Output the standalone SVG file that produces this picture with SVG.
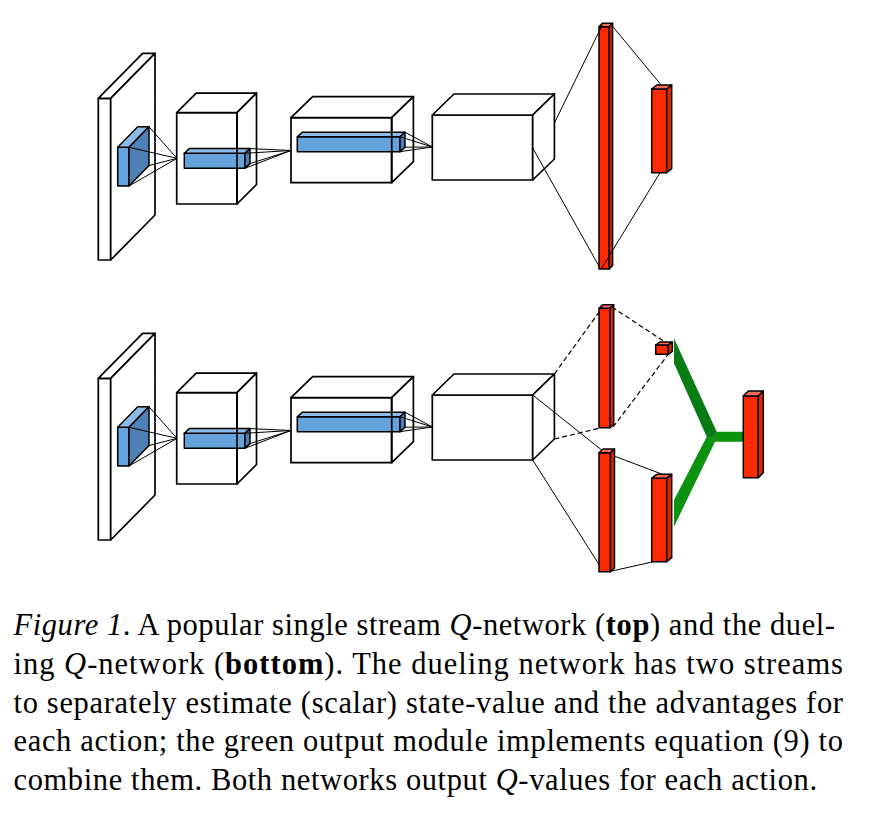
<svg xmlns="http://www.w3.org/2000/svg" width="870" height="824" viewBox="0 0 870 824">
<style>
.w{fill:#ffffff;stroke:#000;stroke-width:1.7;stroke-linejoin:round}
.e{fill:none;stroke:#000;stroke-width:1.7;stroke-linejoin:round}
.bf{fill:#65a3dc;stroke:#000;stroke-width:1.5;stroke-linejoin:round}
.bt{fill:#8cbbe9;stroke:#000;stroke-width:1.5;stroke-linejoin:round}
.bs{fill:#4f80b5;stroke:#000;stroke-width:1.5;stroke-linejoin:round}
.rf{fill:#ff2a00;stroke:#000;stroke-width:1.5;stroke-linejoin:round}
.rt{fill:#ff6b55;stroke:#000;stroke-width:1.5;stroke-linejoin:round}
.rs{fill:#e32400;stroke:#000;stroke-width:1.5;stroke-linejoin:round}
.c{stroke:#000;stroke-width:1;fill:none}
.d{stroke:#000;stroke-width:1.2;fill:none;stroke-dasharray:5 3}
.cap{font-family:"Liberation Serif","Times New Roman",serif;font-size:30.5px;fill:#000}
</style>
<rect width="870" height="824" fill="#fff"/>

<g id="top-network">
  <g id="top-input">
    <rect class="w" x="98.3" y="98.3" width="12.4" height="161.7"/>
    <polygon class="w" points="98.3,98.3 110.7,98.3 155,53.3 142.6,53.3"/>
    <polygon class="w" points="110.7,98.3 155,53.3 155,215 110.7,260"/>
  </g>
  <g id="top-kernel1">
    <rect class="bf" x="117.7" y="147.3" width="11.3" height="38.7"/>
    <polygon class="bt" points="117.7,147.3 129,147.3 149,126.8 137.7,126.8"/>
    <polygon class="bs" points="129,147.3 149,126.8 149,165.5 129,186"/>
  </g>
  <g id="top-conv1">
    <rect class="w" x="176.7" y="112.7" width="60.3" height="91.3"/>
    <polygon class="w" points="176.7,112.7 237,112.7 256.5,93.2 196.2,93.2"/>
    <polygon class="w" points="237,112.7 256.5,93.2 256.5,184.5 237,204"/>
    <rect class="bf" x="184.3" y="153.3" width="60.7" height="15"/>
    <polygon class="bt" points="184.3,153.3 245,153.3 250,148.6 189.3,148.6"/>
    <polygon class="bs" points="245,153.3 250,148.6 250,163.6 245,168.3"/>
    <line class="e" x1="237" y1="112.7" x2="237" y2="204"/>
  </g>
  <g id="top-conv2">
    <rect class="w" x="291" y="117.7" width="100.7" height="65"/>
    <polygon class="w" points="291,117.7 391.7,117.7 413.4,96.7 312.7,96.7"/>
    <polygon class="w" points="391.7,117.7 413.4,96.7 413.4,161.7 391.7,182.7"/>
    <rect class="bf" x="297.3" y="136.7" width="102.7" height="15"/>
    <polygon class="bt" points="297.3,136.7 400,136.7 405,132.2 302.3,132.2"/>
    <polygon class="bs" points="400,136.7 405,132.2 405,147.2 400,151.7"/>
    <line class="e" x1="391.7" y1="117.7" x2="391.7" y2="182.7"/>
  </g>
  <g id="top-conv3">
    <rect class="w" x="432.3" y="115" width="100.4" height="65"/>
    <polygon class="w" points="432.3,115 532.7,115 554.4,94 454,94"/>
    <polygon class="w" points="532.7,115 554.4,94 554.4,159 532.7,180"/>
  </g>
  <g id="top-fc">
    <rect class="rf" x="599" y="26.7" width="10.3" height="242.3"/>
    <polygon class="rt" points="599,26.7 609.3,26.7 612.6,23.3 602.3,23.3"/>
    <polygon class="rs" points="609.3,26.7 612.6,23.3 612.6,265.6 609.3,269"/>
  </g>
  <g id="top-output">
    <rect class="rf" x="651.7" y="89" width="15" height="83.7"/>
    <polygon class="rt" points="651.7,89 666.7,89 671.7,85 656.7,85"/>
    <polygon class="rs" points="666.7,89 671.7,85 671.7,168.7 666.7,172.7"/>
  </g>
</g>

<g id="bottom-network">
  <g id="bottom-input" transform="translate(0,280)">
    <rect class="w" x="98.3" y="98.3" width="12.4" height="161.7"/>
    <polygon class="w" points="98.3,98.3 110.7,98.3 155,53.3 142.6,53.3"/>
    <polygon class="w" points="110.7,98.3 155,53.3 155,215 110.7,260"/>
  </g>
  <g id="bottom-kernel1" transform="translate(0,280)">
    <rect class="bf" x="117.7" y="147.3" width="11.3" height="38.7"/>
    <polygon class="bt" points="117.7,147.3 129,147.3 149,126.8 137.7,126.8"/>
    <polygon class="bs" points="129,147.3 149,126.8 149,165.5 129,186"/>
  </g>
  <g id="bottom-conv1" transform="translate(0,280)">
    <rect class="w" x="176.7" y="112.7" width="60.3" height="91.3"/>
    <polygon class="w" points="176.7,112.7 237,112.7 256.5,93.2 196.2,93.2"/>
    <polygon class="w" points="237,112.7 256.5,93.2 256.5,184.5 237,204"/>
    <rect class="bf" x="184.3" y="153.3" width="60.7" height="15"/>
    <polygon class="bt" points="184.3,153.3 245,153.3 250,148.6 189.3,148.6"/>
    <polygon class="bs" points="245,153.3 250,148.6 250,163.6 245,168.3"/>
    <line class="e" x1="237" y1="112.7" x2="237" y2="204"/>
  </g>
  <g id="bottom-conv2" transform="translate(0,280)">
    <rect class="w" x="291" y="117.7" width="100.7" height="65"/>
    <polygon class="w" points="291,117.7 391.7,117.7 413.4,96.7 312.7,96.7"/>
    <polygon class="w" points="391.7,117.7 413.4,96.7 413.4,161.7 391.7,182.7"/>
    <rect class="bf" x="297.3" y="136.7" width="102.7" height="15"/>
    <polygon class="bt" points="297.3,136.7 400,136.7 405,132.2 302.3,132.2"/>
    <polygon class="bs" points="400,136.7 405,132.2 405,147.2 400,151.7"/>
    <line class="e" x1="391.7" y1="117.7" x2="391.7" y2="182.7"/>
  </g>
  <g id="bottom-conv3" transform="translate(0,280)">
    <rect class="w" x="432.3" y="115" width="100.4" height="65"/>
    <polygon class="w" points="432.3,115 532.7,115 554.4,94 454,94"/>
    <polygon class="w" points="532.7,115 554.4,94 554.4,159 532.7,180"/>
  </g>
  <g id="value-fc">
    <rect class="rf" x="599" y="308.3" width="11" height="119.4"/>
    <polygon class="rt" points="599,308.3 610,308.3 613.7,304.8 602.7,304.8"/>
    <polygon class="rs" points="610,308.3 613.7,304.8 613.7,424.2 610,427.7"/>
  </g>
  <g id="value-out">
    <rect class="rf" x="655.7" y="345" width="12.6" height="9.3"/>
    <polygon class="rt" points="655.7,345 668.3,345 672.3,342 659.7,342"/>
    <polygon class="rs" points="668.3,345 672.3,342 672.3,351.3 668.3,354.3"/>
  </g>
  <g id="advantage-fc">
    <rect class="rf" x="599" y="452.7" width="11.5" height="119"/>
    <polygon class="rt" points="599,452.7 610.5,452.7 614.5,449 603,449"/>
    <polygon class="rs" points="610.5,452.7 614.5,449 614.5,568 610.5,571.7"/>
  </g>
  <g id="advantage-out">
    <rect class="rf" x="651.7" y="478.3" width="15" height="83.4"/>
    <polygon class="rt" points="651.7,478.3 666.7,478.3 671.7,474.3 656.7,474.3"/>
    <polygon class="rs" points="666.7,478.3 671.7,474.3 671.7,557.7 666.7,561.7"/>
  </g>
  <g id="green-module">
    <polygon fill="#0b920e" points="706.7,436.7 716.7,431.7 743.5,431.7 743.5,441.7 715,441.7 674,526.7 674,500"/>
    <polygon fill="#087c14" points="674,338.3 716.7,431.7 712,436.7 706.7,436.7 674,363.3"/>
  </g>
  <g id="q-output">
    <rect class="rf" x="743.3" y="396" width="15" height="81.7"/>
    <polygon class="rt" points="743.3,396 758.3,396 763.3,391 748.3,391"/>
    <polygon class="rs" points="758.3,396 763.3,391 763.3,472.7 758.3,477.7"/>
  </g>
</g>

<g id="connectors">
  <g id="top-connectors">
    <line class="c" x1="149" y1="126.8" x2="177" y2="158.3"/>
    <line class="c" x1="129" y1="147.3" x2="177" y2="158.3"/>
    <line class="c" x1="129" y1="186" x2="177" y2="158.3"/>
    <line class="c" x1="149" y1="165.5" x2="177" y2="158.3"/>
    <line class="c" x1="250" y1="148.6" x2="291" y2="150.5"/>
    <line class="c" x1="245" y1="153.3" x2="291" y2="150.5"/>
    <line class="c" x1="245" y1="168.3" x2="291" y2="150.5"/>
    <line class="c" x1="250" y1="163.6" x2="291" y2="150.5"/>
    <line class="c" x1="405" y1="132.2" x2="432.3" y2="147"/>
    <line class="c" x1="400" y1="136.7" x2="432.3" y2="147"/>
    <line class="c" x1="400" y1="151.7" x2="432.3" y2="147"/>
    <line class="c" x1="405" y1="147.2" x2="432.3" y2="147"/>
    <line class="c" x1="554.4" y1="123" x2="602.3" y2="25"/>
    <line class="c" x1="532.7" y1="148" x2="600" y2="268"/>
    <line class="c" x1="611.5" y1="25" x2="662" y2="86"/>
    <line class="c" x1="601.7" y1="268.3" x2="660" y2="172.7"/>
  </g>
  <g id="bottom-connectors">
    <line class="c" x1="149" y1="406.8" x2="177" y2="438.3"/>
    <line class="c" x1="129" y1="427.3" x2="177" y2="438.3"/>
    <line class="c" x1="129" y1="466" x2="177" y2="438.3"/>
    <line class="c" x1="149" y1="445.5" x2="177" y2="438.3"/>
    <line class="c" x1="250" y1="428.6" x2="291" y2="430.5"/>
    <line class="c" x1="245" y1="433.3" x2="291" y2="430.5"/>
    <line class="c" x1="245" y1="448.3" x2="291" y2="430.5"/>
    <line class="c" x1="250" y1="443.6" x2="291" y2="430.5"/>
    <line class="c" x1="405" y1="412.2" x2="432.3" y2="427"/>
    <line class="c" x1="400" y1="416.7" x2="432.3" y2="427"/>
    <line class="c" x1="400" y1="431.7" x2="432.3" y2="427"/>
    <line class="c" x1="405" y1="427.2" x2="432.3" y2="427"/>
    <line class="d" x1="554.4" y1="374" x2="602.7" y2="307"/>
    <line class="d" x1="554.4" y1="439" x2="600" y2="428"/>
    <line class="d" x1="612" y1="307" x2="665" y2="342"/>
    <line class="d" x1="613" y1="427" x2="668.5" y2="354"/>
    <line class="c" x1="532.7" y1="395" x2="601.7" y2="450"/>
    <line class="c" x1="532.7" y1="460" x2="600" y2="566"/>
    <line class="c" x1="614" y1="456" x2="661.7" y2="474"/>
    <line class="c" x1="612" y1="571" x2="653.3" y2="561.7"/>
  </g>
</g>

<g id="caption" class="cap">
  <text x="13.5" y="635" textLength="821.5" lengthAdjust="spacing"><tspan font-style="italic">Figure 1</tspan>. A popular single stream <tspan font-style="italic">Q</tspan>-network (<tspan font-weight="bold">top</tspan>) and the duel-</text>
  <text x="13.5" y="674" textLength="829.5" lengthAdjust="spacing">ing <tspan font-style="italic">Q</tspan>-network (<tspan font-weight="bold">bottom</tspan>).  The dueling network has two streams</text>
  <text x="13.5" y="712.5" textLength="829.5" lengthAdjust="spacing">to separately estimate (scalar) state-value and the advantages for</text>
  <text x="13.5" y="751" textLength="829.5" lengthAdjust="spacing">each action; the green output module implements equation (9) to</text>
  <text x="13.5" y="790" textLength="803.5" lengthAdjust="spacing">combine them. Both networks output <tspan font-style="italic">Q</tspan>-values for each action.</text>
</g>
</svg>
